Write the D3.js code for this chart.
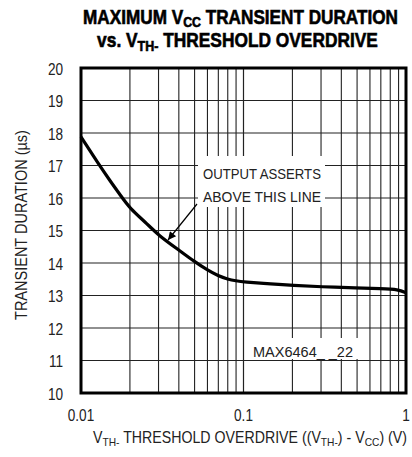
<!DOCTYPE html>
<html>
<head>
<meta charset="utf-8">
<script src="https://cdn.jsdelivr.net/npm/d3@7"></script>
<style>
  body { margin: 0; background: #fff; }
  text { font-family: "Liberation Sans", Arial, sans-serif; }
</style>
</head>
<body>
<div id="chart"></div>
<script>
// curve: overdrive (V) vs max transient duration (us)
const overdrive = [0.01, 0.013, 0.015, 0.0175, 0.02, 0.025, 0.03, 0.04, 0.05, 0.06, 0.07, 0.08, 0.09, 0.1, 0.15, 0.2, 0.3, 0.5, 0.7, 0.9, 1.0];
const duration  = [17.88, 17.0, 16.55, 16.08, 15.68, 15.25, 14.85, 14.4, 14.04, 13.78, 13.6, 13.5, 13.45, 13.42, 13.35, 13.31, 13.27, 13.23, 13.21, 13.19, 13.08];
const yTicks = [10, 11, 12, 13, 14, 15, 16, 17, 18, 19, 20];
const xTicks = [0.01, 0.1, 1];
const xTickLabels = ["0.01", "0.1", "1"];

const width = 412, height = 457;
const margin = { left: 81, right: 6, top: 68, bottom: 64 };

const svg = d3.select("#chart").append("svg")
  .attr("width", width)
  .attr("height", height);

const x = d3.scaleLog().domain([0.01, 1]).range([margin.left, width - margin.right]);
const y = d3.scaleLinear().domain([10, 20]).range([height - margin.bottom, margin.top]);

// condensed-looking text: draw then squeeze horizontally to a width
function label(px, py, size, anchor, target, parts, opts) {
  opts = opts || {};
  const g = svg.append("g").attr("transform", "translate(" + px + "," + py + ")" + (opts.rotate ? " rotate(-90)" : ""));
  const t = g.append("text")
    .attr("text-anchor", anchor)
    .attr("font-size", size)
    .attr("font-weight", opts.bold ? "bold" : null)
    .attr("fill", opts.fill || "#222");
  if (opts.bold) t.attr("stroke", "#000").attr("stroke-width", 0.6);
  parts.forEach(p => {
    const s = t.append("tspan").text(p.t);
    if (p.sub) s.attr("font-size", size * 0.72).attr("dy", size * 0.18);
    if (p.up) s.attr("dy", -size * 0.18);
  });
  const w = t.node().getComputedTextLength();
  const k = target ? target / w : opts.k;
  t.attr("transform", "scale(" + k + ",1)");
  return t;
}

// grid
const minor = [];
[0.01, 0.1].forEach(d => { for (let k = 1; k <= 10; k++) minor.push(d * k); });
svg.append("g").selectAll("line")
  .data(minor)
  .enter().append("line")
  .attr("x1", d => x(d)).attr("x2", d => x(d))
  .attr("y1", y(10)).attr("y2", y(20))
  .attr("stroke", "#222").attr("stroke-width", 1.1);

svg.append("g").selectAll("line")
  .data(yTicks)
  .enter().append("line")
  .attr("x1", x(0.01)).attr("x2", x(1))
  .attr("y1", d => y(d)).attr("y2", d => y(d))
  .attr("stroke", "#222").attr("stroke-width", 1.1);

// white boxes behind notes
svg.append("rect")
  .attr("x", 198).attr("y", 156).attr("width", 127).attr("height", 51)
  .attr("fill", "#fff");
svg.append("rect")
  .attr("x", 248).attr("y", 338).attr("width", 110).attr("height", 21)
  .attr("fill", "#fff");

// frame
svg.append("rect")
  .attr("x", x(0.01)).attr("y", y(20))
  .attr("width", x(1) - x(0.01)).attr("height", y(10) - y(20))
  .attr("fill", "none").attr("stroke", "#000").attr("stroke-width", 3);

// curve
const line = d3.line()
  .x((d, i) => x(overdrive[i]))
  .y(d => y(d))
  .curve(d3.curveBasis);
svg.append("path")
  .datum(duration)
  .attr("d", line)
  .attr("fill", "none")
  .attr("stroke", "#000")
  .attr("stroke-width", 3.2);

// tick labels
yTicks.forEach(d => label(63, y(d) + 6.5, 17, "end", null, [{ t: String(d) }], { k: 0.8 }));
xTicks.forEach((d, i) => label(x(d), 421, 17, "middle", null, [{ t: xTickLabels[i] }], { k: 0.8 }));

// title
label(240.5, 23.5, 19.5, "middle", 315, [
  { t: "MAXIMUM V" }, { t: "CC", sub: true }, { t: " TRANSIENT DURATION", up: true }
], { bold: true, fill: "#000" });
label(237.5, 47, 19.5, "middle", 281, [
  { t: "vs. V" }, { t: "TH-", sub: true }, { t: " THRESHOLD OVERDRIVE", up: true }
], { bold: true, fill: "#000" });

// axis titles
label(27, 225, 16, "middle", 190, [{ t: "TRANSIENT DURATION (\u00b5s)" }], { rotate: true });
label(250, 443, 16, "middle", 314, [
  { t: "V" }, { t: "TH-", sub: true }, { t: " THRESHOLD OVERDRIVE ((V", up: true },
  { t: "TH-", sub: true }, { t: ") - V", up: true }, { t: "CC", sub: true }, { t: ") (V)", up: true }
]);

// annotation
label(262, 179, 15.5, "middle", 118, [{ t: "OUTPUT ASSERTS" }]);
label(262, 202, 15.5, "middle", 118, [{ t: "ABOVE THIS LINE" }]);

svg.append("defs").append("marker")
  .attr("id", "arr")
  .attr("viewBox", "0 0 10 10")
  .attr("refX", 10).attr("refY", 5)
  .attr("markerWidth", 13).attr("markerHeight", 8)
  .attr("markerUnits", "userSpaceOnUse")
  .attr("orient", "auto")
  .append("path").attr("d", "M0,0 L10,5 L0,10 z").attr("fill", "#000");

svg.append("line")
  .attr("x1", 197).attr("y1", 204)
  .attr("x2", 168).attr("y2", 240)
  .attr("stroke", "#000").attr("stroke-width", 1.2)
  .attr("marker-end", "url(#arr)");

label(303, 357, 15.5, "middle", 100, [{ t: "MAX6464_ _22" }]);
</script>
</body>
</html>
